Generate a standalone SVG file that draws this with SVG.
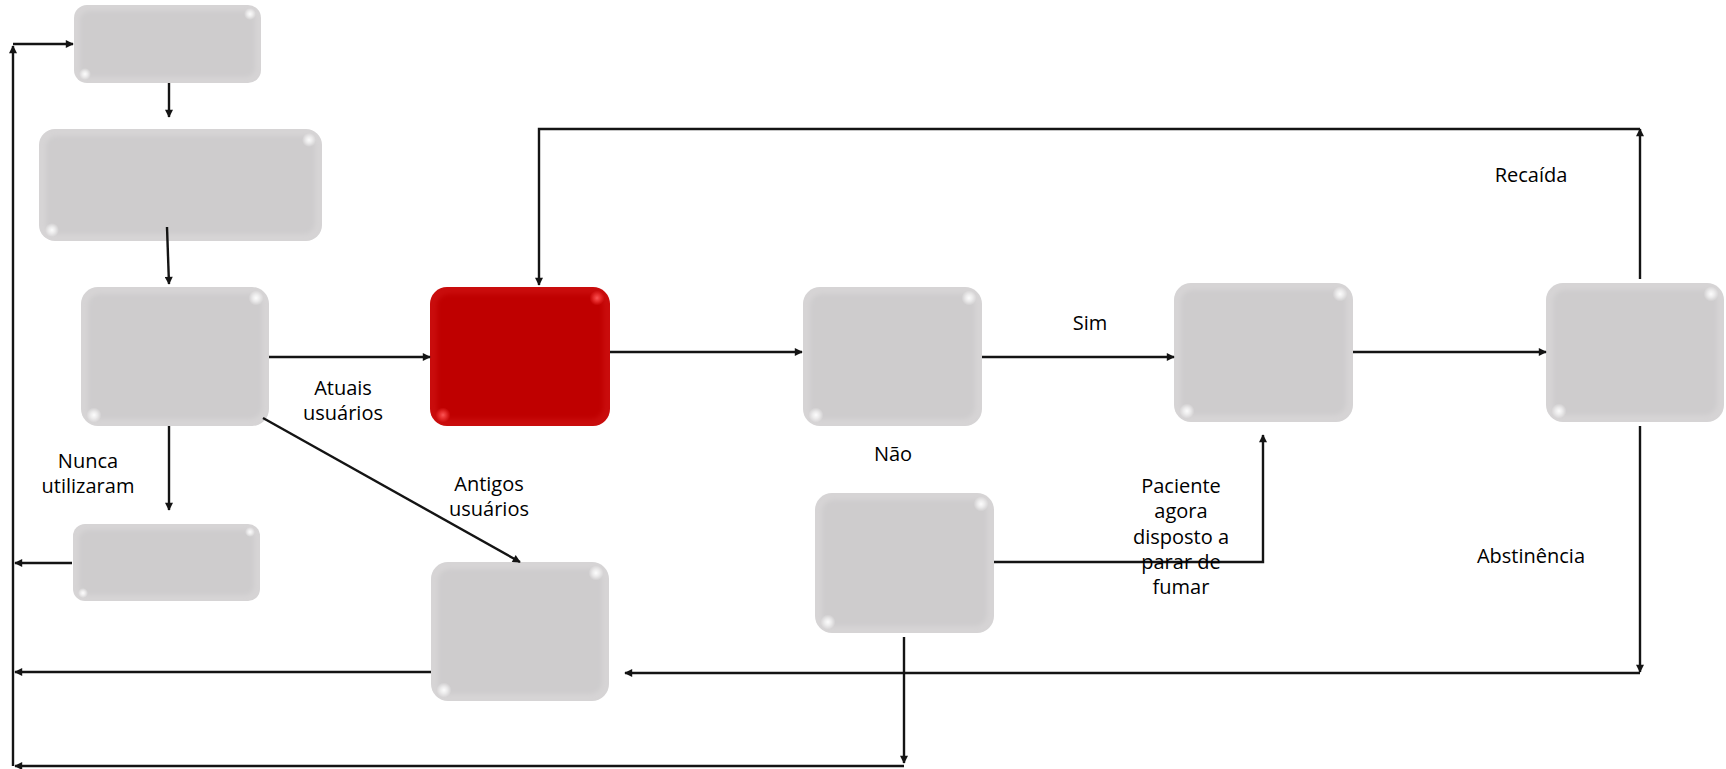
<svg xmlns="http://www.w3.org/2000/svg" width="1726" height="769" viewBox="0 0 1726 769">
<defs>
<style>
.rim{fill:#d6d4d5;}
.core{fill:#cecccd;}
.rimR{fill:#c90c0c;}
.coreR{fill:#bf0000;}
.glint{fill:url(#gW);}
.glintR{fill:url(#gR);}
.ca{fill:none;stroke:#141414;stroke-width:2.4;marker-end:url(#ah);}
.lbl{font-family:"Open Sans","Noto Sans","DejaVu Sans",sans-serif;font-size:20px;fill:#000;text-anchor:middle;}
</style>
<radialGradient id="gW" cx="0.5" cy="0.5" r="0.5">
<stop offset="0" stop-color="#ffffff" stop-opacity="0.95"/>
<stop offset="0.45" stop-color="#ffffff" stop-opacity="0.6"/>
<stop offset="1" stop-color="#ffffff" stop-opacity="0"/>
</radialGradient>
<radialGradient id="gR" cx="0.5" cy="0.5" r="0.5">
<stop offset="0" stop-color="#ff5a5a" stop-opacity="0.95"/>
<stop offset="0.45" stop-color="#ff4a4a" stop-opacity="0.6"/>
<stop offset="1" stop-color="#ff4040" stop-opacity="0"/>
</radialGradient>
<filter id="soft" x="-5%" y="-5%" width="110%" height="110%"><feGaussianBlur stdDeviation="2"/></filter>
<marker id="ah" viewBox="0 0 10 10" refX="9" refY="5" markerWidth="9" markerHeight="8" markerUnits="userSpaceOnUse" orient="auto">
<path d="M0,0 L10,5 L0,10 z" fill="#141414"/>
</marker>
</defs>

<g id="node-A">
<rect class="rim" x="74" y="5" width="187" height="78" rx="13"/>
<rect class="core" x="80" y="11" width="175" height="66" rx="9" filter="url(#soft)"/>
<ellipse class="glint" cx="250" cy="14" rx="6" ry="6"/>
<ellipse class="glint" cx="85" cy="74" rx="6" ry="6"/>
</g>
<g id="node-B">
<rect class="rim" x="39" y="129" width="283" height="112" rx="16"/>
<rect class="core" x="46" y="136" width="269" height="98" rx="11" filter="url(#soft)"/>
<ellipse class="glint" cx="309" cy="140" rx="7" ry="7"/>
<ellipse class="glint" cx="52" cy="230" rx="7" ry="7"/>
</g>
<g id="node-C">
<rect class="rim" x="81" y="287" width="188" height="139" rx="17"/>
<rect class="core" x="88" y="294" width="174" height="125" rx="12" filter="url(#soft)"/>
<ellipse class="glint" cx="256" cy="298" rx="7.5" ry="7.5"/>
<ellipse class="glint" cx="94" cy="415" rx="7.5" ry="7.5"/>
</g>
<g id="node-D">
<rect class="rim" x="73" y="524" width="187" height="77" rx="12"/>
<rect class="core" x="79" y="530" width="175" height="65" rx="9" filter="url(#soft)"/>
<ellipse class="glint" cx="250" cy="532" rx="5" ry="5"/>
<ellipse class="glint" cx="83" cy="593" rx="5" ry="5"/>
</g>
<g id="node-E">
<rect class="rimR" x="430" y="287" width="180" height="139" rx="17"/>
<rect class="coreR" x="437" y="294" width="166" height="125" rx="12" filter="url(#soft)"/>
<ellipse class="glintR" cx="597" cy="298" rx="7.5" ry="7.5"/>
<ellipse class="glintR" cx="443" cy="415" rx="7.5" ry="7.5"/>
</g>
<g id="node-F">
<rect class="rim" x="431" y="562" width="178" height="139" rx="17"/>
<rect class="core" x="438" y="569" width="164" height="125" rx="12" filter="url(#soft)"/>
<ellipse class="glint" cx="596" cy="573" rx="7.5" ry="7.5"/>
<ellipse class="glint" cx="444" cy="690" rx="7.5" ry="7.5"/>
</g>
<g id="node-G">
<rect class="rim" x="815" y="493" width="179" height="140" rx="17"/>
<rect class="core" x="822" y="500" width="165" height="126" rx="12" filter="url(#soft)"/>
<ellipse class="glint" cx="981" cy="504" rx="7.5" ry="7.5"/>
<ellipse class="glint" cx="828" cy="622" rx="7.5" ry="7.5"/>
</g>
<g id="node-H">
<rect class="rim" x="803" y="287" width="179" height="139" rx="17"/>
<rect class="core" x="810" y="294" width="165" height="125" rx="12" filter="url(#soft)"/>
<ellipse class="glint" cx="969" cy="298" rx="7.5" ry="7.5"/>
<ellipse class="glint" cx="816" cy="415" rx="7.5" ry="7.5"/>
</g>
<g id="node-I">
<rect class="rim" x="1174" y="283" width="179" height="139" rx="17"/>
<rect class="core" x="1181" y="290" width="165" height="125" rx="12" filter="url(#soft)"/>
<ellipse class="glint" cx="1340" cy="294" rx="7.5" ry="7.5"/>
<ellipse class="glint" cx="1187" cy="411" rx="7.5" ry="7.5"/>
</g>
<g id="node-J">
<rect class="rim" x="1546" y="283" width="178" height="139" rx="17"/>
<rect class="core" x="1553" y="290" width="164" height="125" rx="12" filter="url(#soft)"/>
<ellipse class="glint" cx="1711" cy="294" rx="7.5" ry="7.5"/>
<ellipse class="glint" cx="1559" cy="411" rx="7.5" ry="7.5"/>
</g>

<g id="connectors">
<path class="ca" d="M169,83 L169,117"/>
<path class="ca" d="M167,227 L169,284"/>
<path class="ca" d="M269,357 L430,357"/>
<path class="ca" d="M169,426 L169,510"/>
<path class="ca" d="M263,418 L520,562"/>
<path class="ca" d="M72,563 L15,563"/>
<path class="ca" d="M610,352 L802,352"/>
<path class="ca" d="M982,357 L1174,357"/>
<path class="ca" d="M1353,352 L1546,352"/>
<path class="ca" d="M1640,279 L1640,129"/>
<path class="ca" d="M1640,129 L539,129 L539,285"/>
<path class="ca" d="M1640,426 L1640,672"/>
<path class="ca" d="M1640,673 L625,673"/>
<path class="ca" d="M431,672 L15,672"/>
<path class="ca" d="M994,562 L1263,562 L1263,435"/>
<path class="ca" d="M904,637 L904,763"/>
<path class="ca" d="M904,766 L15,766"/>
<path class="ca" d="M13,766 L13,46"/>
<path class="ca" d="M13,44 L73,44"/>
</g>

<g id="labels">
<text class="lbl" x="343" y="395">Atuais</text>
<text class="lbl" x="343" y="420">usuários</text>
<text class="lbl" x="88" y="468">Nunca</text>
<text class="lbl" x="88" y="493">utilizaram</text>
<text class="lbl" x="489" y="491">Antigos</text>
<text class="lbl" x="489" y="516">usuários</text>
<text class="lbl" x="893" y="461">Não</text>
<text class="lbl" x="1090" y="330">Sim</text>
<text class="lbl" x="1181" y="493">Paciente</text>
<text class="lbl" x="1181" y="518">agora</text>
<text class="lbl" x="1181" y="543.5">disposto a</text>
<text class="lbl" x="1181" y="569">parar de</text>
<text class="lbl" x="1181" y="594">fumar</text>
<text class="lbl" x="1531" y="182">Recaída</text>
<text class="lbl" x="1531" y="563">Abstinência</text>
</g>
</svg>
